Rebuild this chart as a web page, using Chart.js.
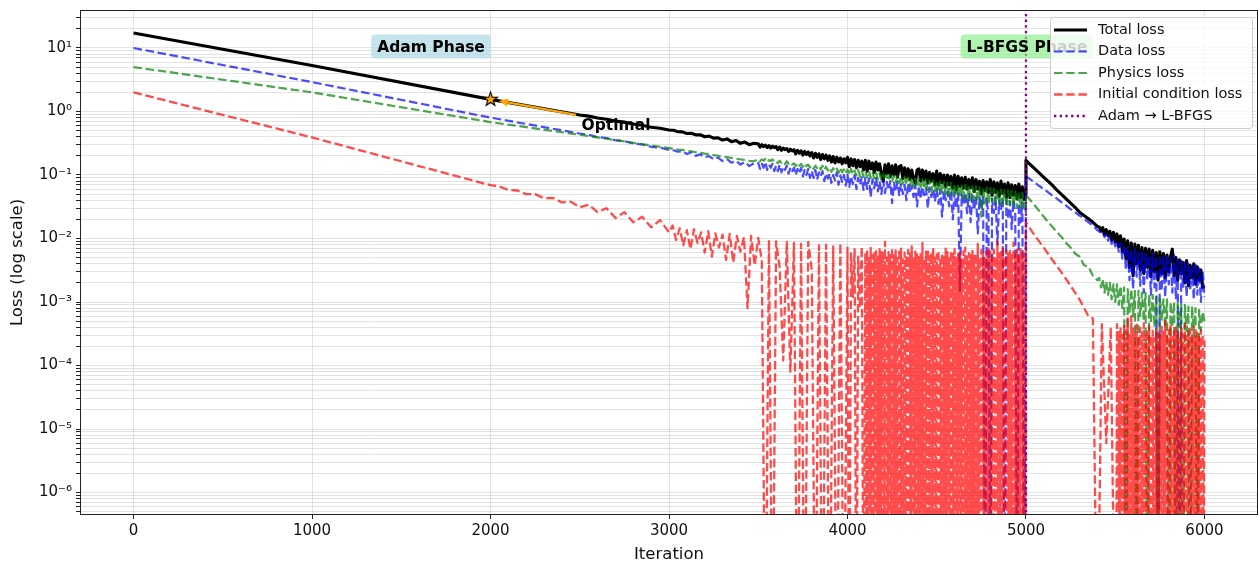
<!DOCTYPE html>
<html>
<head>
<meta charset="utf-8">
<title>PINN training loss</title>
<script src="https://cdn.jsdelivr.net/npm/chart.js@4.4.1/dist/chart.umd.min.js"></script>
<style>
  html, body { margin: 0; padding: 0; background: #fff; }
  canvas { display: block; }
</style>
</head>
<body>
<canvas id="lossChart" width="1259" height="563"></canvas>
<script>
// iterations sampled for total / data / physics loss (denser where the curves are noisy)
const iters = [
  0, 1000, 2000, 2500, 2550, 2600, 2650, 2700, 2750, 2800, 2850, 2900, 2950, 3000,
  3025, 3050, 3075, 3100, 3125, 3150, 3175, 3200, 3225, 3250, 3275, 3300, 3325, 3350, 3375, 3400, 3425, 3450, 3475,
  3500, 3510, 3520, 3530, 3540, 3550, 3560, 3570, 3580, 3590,
  3600, 3610, 3620, 3630, 3640, 3650, 3660, 3670, 3680, 3690,
  3700, 3710, 3720, 3730, 3740, 3750, 3760, 3770, 3780, 3790,
  3800, 3810, 3820, 3830, 3840, 3850, 3860, 3870, 3880, 3890,
  3900, 3910, 3920, 3930, 3940, 3950, 3960, 3970, 3980, 3990,
  4000, 4010, 4020, 4030, 4040, 4050, 4060, 4070, 4080, 4090,
  4100, 4110, 4120, 4130, 4140, 4150, 4160, 4170, 4180, 4190,
  4200, 4210, 4220, 4230, 4240, 4250, 4260, 4270, 4280, 4290,
  4300, 4310, 4320, 4330, 4340, 4350, 4360, 4370, 4380, 4390,
  4400, 4410, 4420, 4430, 4440, 4450, 4460, 4470, 4480, 4490,
  4500, 4510, 4520, 4530, 4540, 4550, 4560, 4570, 4580, 4590,
  4600, 4610, 4620, 4630, 4640, 4650, 4660, 4670, 4680, 4690,
  4700, 4710, 4720, 4730, 4740, 4750, 4760, 4770, 4780, 4790,
  4800, 4810, 4820, 4830, 4840, 4850, 4860, 4870, 4880, 4890,
  4900, 4910, 4920, 4930, 4940, 4950, 4960, 4970, 4980, 4990, 4999,
  5000, 5025, 5050, 5075, 5100, 5125, 5150, 5175, 5200, 5225, 5250, 5275, 5300, 5325, 5350, 5375, 5400,
  5410, 5420, 5430, 5440, 5450, 5460, 5470, 5480, 5490, 5500,
  5510, 5520, 5530, 5540, 5550, 5560, 5570, 5580, 5590, 5600,
  5610, 5620, 5630, 5640, 5650, 5660, 5670, 5680, 5690, 5700,
  5710, 5720, 5730, 5740, 5750, 5760, 5770, 5780, 5790, 5800,
  5810, 5820, 5830, 5840, 5850, 5860, 5870, 5880, 5890, 5900,
  5910, 5920, 5930, 5940, 5950, 5960, 5970, 5980, 5990, 6000
];

const totalLoss = [
  17.2, 5.3, 1.55, 0.88, 0.845, 0.79, 0.755, 0.705, 0.68, 0.635, 0.605, 0.565, 0.545, 0.51,
  .505, .48, .478, .45, .455, .428, .43, .40, .41, .38, .385, .355, .37, .335, .35, .315, .33, .30, .315,
  .31, .275, .30, .28, .295, .27, .29, .265, .285, .27,
  .28, .25, .275, .245, .265, .25, .26, .235, .255, .24,
  .25, .215, .245, .22, .24, .205, .235, .21, .23, .20,
  .225, .185, .22, .19, .215, .175, .21, .18, .205, .17,
  .20, .16, .195, .155, .19, .16, .185, .15, .18, .155,
  .19, .135, .18, .14, .175, .13, .17, .135, .165, .12,
  .17, .115, .165, .125, .155, .11, .16, .12, .15, .105,
  .08, .145, .105, .15, .095, .14, .10, .145, .092, .135,
  .14, .088, .13, .092, .125, .085, .12, .088, .075, .12,
  .125, .08, .12, .084, .115, .075, .11, .08, .105, .07,
  .115, .07, .105, .075, .10, .066, .10, .07, .095, .062,
  .10, .058, .095, .066, .09, .062, .092, .06, .085, .063,
  .09, .055, .085, .06, .08, .05, .082, .057, .078, .053,
  .085, .048, .078, .053, .075, .046, .08, .051, .072, .044,
  .075, .044, .07, .048, .068, .042, .072, .044, .065, .041, .05,
  .17, .145, .125, .107, .092, .079, .068, .057, .049, .042, .036, .031, .026, .023, .0205, .018, .0155,
  .0152, .013, .0148, .0115, .0138, .011, .013, .0095, .0125, .0088,
  .0118, .0075, .011, .0062, .0098, .0048, .0092, .0035, .0085, .0026,
  .0082, .004, .0078, .0032, .0072, .0028, .007, .0035, .0068, .0025,
  .0065, .003, .006, .0022, .0062, .0028, .0058, .0024, .0055, .003,
  .0052, .0068, .0026, .005, .0022, .0046, .0028, .0042, .002, .0045,
  .0018, .0038, .0024, .004, .0019, .0036, .0022, .0032, .0017, .0018
];

const dataLoss = [
  10, 2.9, 0.80, 0.45, 0.43, 0.395, 0.382, 0.352, 0.342, 0.312, 0.302, 0.278, 0.27, 0.248,
  .245, .232, .236, .214, .226, .20, .212, .19, .198, .176, .188, .166, .178, .156, .168, .146, .16, .138, .152,
  .155, .125, .15, .13, .16, .12, .145, .13, .15, .115,
  .14, .115, .145, .11, .135, .12, .14, .105, .13, .115,
  .13, .10, .125, .105, .13, .095, .12, .10, .125, .09,
  .115, .09, .12, .085, .11, .095, .115, .08, .105, .088,
  .105, .075, .10, .082, .11, .07, .098, .078, .10, .068,
  .10, .065, .095, .072, .10, .06, .09, .07, .092, .058,
  .09, .06, .088, .045, .085, .062, .09, .055, .08, .05,
  .082, .052, .078, .058, .08, .036, .075, .055, .078, .048,
  .072, .05, .07, .04, .075, .052, .068, .045, .07, .032,
  .066, .042, .065, .048, .062, .03, .064, .045, .06, .038,
  .06, .035, .058, .022, .056, .04, .055, .032, .058, .02,
  .054, .03, .052, .0015, .05, .034, .052, .025, .05, .018,
  .048, .028, .046, .012, .045, .03, .047, 0, .044, .022,
  0, .042, .025, .044, .008, .04, .028, .043, 0, .04,
  .02, .038, .014, .04, .024, 0, .036, .018, .037, 0, .012,
  .095, .085, .076, .067, .060, .053, .047, .042, .037, .033, .029, .026, .023, .0205, .018, .016, .0135,
  .013, .0118, .0125, .0105, .0115, .0092, .011, .0082, .0098, .0075,
  .009, .0062, .0085, .0048, .0078, .0032, .0072, .0022, .0065, .0016,
  .0068, .0025, .006, .0018, .0062, .0014, .0058, .0022, .0055, .0013,
  .0058, .0017, .0052, 0, .0055, .0015, .005, .0012, .0052, .0019,
  .0048, .0014, .0055, .0011, .0046, 0, .0045, .0016, .0042, .0012,
  .004, .0015, .0038, .0011, .004, .0013, .0034, .001, .0032, .0012
];

const physicsLoss = [
  5.0, 2.0, 0.68, 0.43, 0.41, 0.39, 0.372, 0.356, 0.338, 0.322, 0.306, 0.292, 0.278, 0.265,
  .259, .251, .248, .239, .236, .228, .224, .217, .213, .205, .201, .195, .191, .185, .181, .176, .172, .167, .164,
  .178, .165, .175, .168, .18, .162, .172, .165, .176, .16,
  .165, .152, .168, .155, .162, .148, .165, .15, .158, .146,
  .152, .138, .155, .14, .15, .135, .152, .138, .145, .132,
  .142, .125, .14, .128, .138, .122, .14, .12, .135, .118,
  .13, .112, .128, .115, .126, .108, .13, .11, .122, .105,
  .122, .10, .125, .102, .118, .098, .12, .095, .115, .094,
  .112, .092, .115, .09, .11, .088, .108, .085, .106, .082,
  .104, .083, .102, .08, .10, .078, .098, .076, .096, .074,
  .095, .072, .094, .07, .092, .068, .09, .066, .088, .064,
  .088, .064, .086, .06, .085, .058, .083, .056, .082, .055,
  .08, .054, .079, .052, .078, .05, .076, .048, .075, .046,
  .073, .047, .072, .044, .071, .043, .07, .04, .068, .039,
  .067, .04, .066, .038, .065, .022, .064, .036, .063, .034,
  .062, .038, .061, .036, .06, .034, .059, .035, .058, .033,
  .057, .034, .056, .032, .055, .03, .054, .031, .053, .03, .028,
  .048, .040, .033, .027, .022, .018, .015, .0125, .0105, .0085, .0072, .0058, .0052, .0038, .0036, .0026, .0022,
  .0024, .0017, .0023, .0014, .0021, .0013, .002, .0011, .0019, .001,
  .0019, .0009, .0018, .0008, .0017, 0, .0016, .0007, .0016, .0006,
  .0015, 0, .0015, .0006, .0014, .0005, .0014, 0, .0013, .0005,
  .0013, .0004, .0012, 0, .0012, .0005, .0011, .0004, .0011, 0,
  .001, .0004, .001, 0, .00095, .0004, .0009, 0, .0009, .00035,
  .00085, 0, .00085, .0004, .0008, 0, .00075, .00035, .0007, .0005
];

// initial condition loss, sampled densest where it keeps hitting zero
const icIters = [
  0, 1000, 2000,
  2050, 2100, 2150, 2200, 2250, 2300, 2350, 2400, 2450, 2500,
  2550, 2600, 2650, 2700, 2750, 2800, 2850, 2900, 2950, 3000,
  3020, 3040, 3060, 3080, 3100, 3120, 3140, 3160, 3180, 3200,
  3220, 3240, 3260, 3280, 3300, 3320, 3340, 3360, 3380, 3400,
  3420, 3440, 3460, 3480, 3500, 3520, 3540, 3560, 3580, 3600,
  3620, 3640, 3660, 3680, 3700, 3720, 3740, 3760, 3780, 3800,
  3820, 3840, 3860, 3880, 3900, 3920, 3940, 3960, 3980,
  4000, 4010, 4020, 4030, 4040, 4050, 4060, 4070, 4080, 4090,
  4100, 4105, 4110, 4115, 4120, 4125, 4130, 4135, 4140, 4145, 4150, 4155, 4160, 4165, 4170, 4175, 4180, 4185, 4190, 4195,
  4200, 4205, 4210, 4215, 4220, 4225, 4230, 4235, 4240, 4245, 4250, 4255, 4260, 4265, 4270, 4275, 4280, 4285, 4290, 4295,
  4300, 4305, 4310, 4315, 4320, 4325, 4330, 4335, 4340, 4345, 4350, 4355, 4360, 4365, 4370, 4375, 4380, 4385, 4390, 4395,
  4400, 4405, 4410, 4415, 4420, 4425, 4430, 4435, 4440, 4445, 4450, 4455, 4460, 4465, 4470, 4475, 4480, 4485, 4490, 4495,
  4500, 4505, 4510, 4515, 4520, 4525, 4530, 4535, 4540, 4545, 4550, 4555, 4560, 4565, 4570, 4575, 4580, 4585, 4590, 4595,
  4600, 4605, 4610, 4615, 4620, 4625, 4630, 4635, 4640, 4645, 4650, 4655, 4660, 4665, 4670, 4675, 4680, 4685, 4690, 4695,
  4700, 4705, 4710, 4715, 4720, 4725, 4730, 4735, 4740, 4745, 4750, 4755, 4760, 4765, 4770, 4775, 4780, 4785, 4790, 4795,
  4800, 4805, 4810, 4815, 4820, 4825, 4830, 4835, 4840, 4845, 4850, 4855, 4860, 4865, 4870, 4875, 4880, 4885, 4890, 4895,
  4900, 4905, 4910, 4915, 4920, 4925, 4930, 4935, 4940, 4945, 4950, 4955, 4960, 4965, 4970, 4975, 4980, 4985, 4990, 4995,
  4999, 5000, 5050, 5100, 5150, 5200, 5250, 5300, 5350, 5375, 5400, 5425, 5450, 5475, 5500,
  5505, 5510, 5515, 5520, 5525, 5530, 5535, 5540, 5545, 5550, 5555, 5560, 5565, 5570, 5575, 5580, 5585, 5590, 5595, 5600,
  5605, 5610, 5615, 5620, 5625, 5630, 5635, 5640, 5645, 5650, 5655, 5660, 5665, 5670, 5675, 5680, 5685, 5690, 5695, 5700,
  5705, 5710, 5715, 5720, 5725, 5730, 5735, 5740, 5745, 5750, 5755, 5760, 5765, 5770, 5775, 5780, 5785, 5790, 5795, 5800,
  5805, 5810, 5815, 5820, 5825, 5830, 5835, 5840, 5845, 5850, 5855, 5860, 5865, 5870, 5875, 5880, 5885, 5890, 5895, 5900,
  5905, 5910, 5915, 5920, 5925, 5930, 5935, 5940, 5945, 5950, 5955, 5960, 5965, 5970, 5975, 5980, 5985, 5990, 5995, 6000
];

const icLoss = [
  2.0, 0.39, 0.069,
  .066, .058, .057, .050, .050, .043, .0435, .037, .038, .031,
  .034, .026, .030, .021, .026, .018, .022, .015, .0195, .0125,
  .016, .0095, .0145, .0078, .0135, .0068, .014, .0085, .0125, .006,
  .013, .0052, .012, .0072, .0115, .0046, .0118, .0042, .011, .0062,
  .0105, .0008, .011, .0038, .0102, .0045, 0, .0095, 0, .009,
  .0035, .00012, .0088, .00008, .0085, 0, .0082, 0, .0088, .0032,
  0, .0078, 0, .008, 0, .0075, 0, .0085, 0,
  .0072, 0, .0058, .0012, .0068, 0, .0052, .0008, .0075, 0,
  .006, 0, .0066, 0, .0049, 0, .0071, 0, .0055, 0, .0058, 0, .0063, 0, .0052, 0, .0068, 0, .0061, 0,
  .0063, 0, .0088, 0, .005, 0, .0061, 0, .0057, 0, .0072, 0, .0054, 0, .0065, 0, .0049, 0, .0069, 0,
  .0069, 0, .0047, 0, .006, 0, .0054, 0, .0066, 0, .0058, 0, .0075, 0, .0051, 0, .0062, 0, .0056, 0,
  .0051, 0, .0059, 0, .0085, 0, .0048, 0, .0062, 0, .0067, 0, .0053, 0, .006, 0, .0071, 0, .005, 0,
  .0056, 0, .0065, 0, .0046, 0, .0058, 0, .0052, 0, .0069, 0, .0061, 0, .0048, 0, .0064, 0, .0057, 0,
  .0068, 0, .0049, 0, .0057, 0, .0061, 0, .0047, 0, .0063, 0, .0072, 0, .0052, 0, .0059, 0, .0055, 0,
  .0064, 0, .0053, 0, .0059, 0, .0082, 0, .005, 0, .0066, 0, .0058, 0, .0049, 0, .0062, 0, .007, 0,
  .0062, 0, .0056, 0, .0067, 0, .0052, 0, .009, 0, .0058, 0, .0061, 0, .0074, 0, .0053, 0, .0065, 0,
  .0058, 0, .0064, 0, .0055, 0, .0086, 0, .006, 0, .0067, 0, .0052, 0, .0071, 0, .0063, 0, .0059, 0,
  0, .018, .011, .0072, .0045, .0029, .0018, .0011, .0006, .00055, 0, .00045, .000006, .0004, 0,
  0, .00045, 0, .00035, 0, .0004, 0, .0003, 0, .00042, 0, .00036, 0, .00055, 0, .00032, 0, .0006, 0, .00038,
  0, .00031, 0, .00044, 0, .00028, 0, .00039, 0, .00033, 0, .00046, 0, .00029, 0, .00037, 0, .00042, 0, .0003,
  0, .00035, 0, .00027, 0, .00038, 0, .00032, 0, .00029, 0, .00041, 0, .00034, 0, .0005, 0, .00031, 0, .00036,
  0, .00043, 0, .00028, 0, .00035, 0, .0004, 0, .00033, 0, .00026, 0, .00039, 0, .00031, 0, .00045, 0, .00029,
  0, .00034, 0, .00037, 0, .00027, 0, .00041, 0, .0003, 0, .00033, 0, .00028, 0, .00036, 0, .00031, 0, .00025
];

const switchIter = 5000;
const bestIter = 2000;
const bestLoss = 1.55;

const xTicks = [0, 1000, 2000, 3000, 4000, 5000, 6000];
const yDecades = [1e-6, 1e-5, 1e-4, 1e-3, 1e-2, 1e-1, 1, 10];
const yTickLabels = ['10⁻⁶', '10⁻⁵', '10⁻⁴', '10⁻³', '10⁻²', '10⁻¹', '10⁰', '10¹'];

const FONT = "'DejaVu Sans', 'Liberation Sans', sans-serif";
const Y_MIN = 4.43e-7, Y_MAX = 39.6;

[[iters, totalLoss], [iters, dataLoss], [iters, physicsLoss], [icIters, icLoss]].forEach(([a, b], i) => {
  if (a.length !== b.length) throw new Error('length mismatch in series ' + i + ': ' + a.length + ' vs ' + b.length);
});

// values that hit zero fall off the bottom of the log axis
function toPoints(xs, ys) {
  return xs.map((x, i) => ({ x: x, y: ys[i] > 0 ? ys[i] : 1e-9 }));
}

// 1..9 x 10^k inside the axis range, for the minor grid
const yTicks = [];
[1e-7].concat(yDecades).forEach(d => {
  for (let m = 1; m <= 9; m++) {
    const v = parseFloat((m * d).toPrecision(3));
    if (v >= Y_MIN && v <= Y_MAX) yTicks.push(v);
  }
});

function starImage(r) {
  const size = Math.ceil(2 * r + 4);
  const c = document.createElement('canvas');
  c.width = size;
  c.height = size;
  const g = c.getContext('2d');
  g.beginPath();
  for (let i = 0; i < 10; i++) {
    const rr = i % 2 ? r * 0.4 : r;
    const a = -Math.PI / 2 + i * Math.PI / 5;
    g.lineTo(size / 2 + rr * Math.cos(a), size / 2 + rr * Math.sin(a));
  }
  g.closePath();
  g.fillStyle = '#ffa500';
  g.fill();
  g.lineWidth = 1.1;
  g.strokeStyle = '#000';
  g.stroke();
  return c;
}

function phaseLabel(ctx, text, cx, cy, fill) {
  ctx.font = 'bold 15.5px ' + FONT;
  const w = ctx.measureText(text).width + 12;
  ctx.beginPath();
  ctx.roundRect(cx - w / 2, cy - 12, w, 24, 4);
  ctx.fillStyle = fill;
  ctx.fill();
  ctx.fillStyle = '#000';
  ctx.textAlign = 'center';
  ctx.textBaseline = 'middle';
  ctx.fillText(text, cx, cy + 1);
}

function drawLegend(ctx, area, datasets) {
  const x0 = area.right - 208, y0 = area.top + 7;
  ctx.beginPath();
  ctx.roundRect(x0 + 0.5, y0 + 0.5, 202, 111, 3);
  ctx.fillStyle = 'rgba(255,255,255,0.8)';
  ctx.fill();
  ctx.lineWidth = 1;
  ctx.strokeStyle = '#cccccc';
  ctx.stroke();
  ctx.font = '14.5px ' + FONT;
  ctx.textAlign = 'left';
  ctx.textBaseline = 'middle';
  datasets.slice(0, 5).forEach((ds, i) => {
    const yy = y0 + 13 + i * 21.5;
    ctx.beginPath();
    ctx.setLineDash(ds.borderDash || []);
    ctx.strokeStyle = ds.borderColor;
    ctx.lineWidth = Math.min(ds.borderWidth, 3);
    ctx.moveTo(x0 + 4, yy);
    ctx.lineTo(x0 + 37, yy);
    ctx.stroke();
    ctx.setLineDash([]);
    ctx.fillStyle = '#111';
    ctx.fillText(ds.label, x0 + 48, yy);
  });
}

const decorations = {
  id: 'decorations',
  afterDatasetsDraw(chart) {
    const { ctx, chartArea: area, scales: { x, y } } = chart;
    ctx.save();

    // axes frame
    ctx.lineWidth = 1;
    ctx.strokeStyle = '#222';
    ctx.strokeRect(area.left + 0.5, area.top + 0.5, area.right - area.left - 1, area.bottom - area.top - 1);

    // arrow to the best point
    const sx = x.getPixelForValue(bestIter), sy = y.getPixelForValue(bestLoss);
    const tx = x.getPixelForValue(2480), ty = y.getPixelForValue(0.885);
    const ang = Math.atan2(sy - ty, sx - tx);
    const cos = Math.cos(ang), sin = Math.sin(ang);
    const hx = sx - cos * 8.5, hy = sy - sin * 8.5;
    ctx.strokeStyle = '#ffa500';
    ctx.fillStyle = '#ffa500';
    ctx.lineWidth = 2.3;
    ctx.beginPath();
    ctx.moveTo(tx, ty);
    ctx.lineTo(hx - cos * 6, hy - sin * 6);
    ctx.stroke();
    ctx.beginPath();
    ctx.moveTo(hx, hy);
    ctx.lineTo(hx - cos * 9 + sin * 4, hy - sin * 9 - cos * 4);
    ctx.lineTo(hx - cos * 9 - sin * 4, hy - sin * 9 + cos * 4);
    ctx.closePath();
    ctx.fill();

    ctx.font = 'bold 15.5px ' + FONT;
    ctx.fillStyle = '#000';
    ctx.textAlign = 'left';
    ctx.textBaseline = 'middle';
    ctx.fillText('Optimal', x.getPixelForValue(2510), y.getPixelForValue(0.6));

    phaseLabel(ctx, 'Adam Phase', x.getPixelForValue(switchIter / 3), y.getPixelForValue(10.5), 'rgba(173,216,230,0.7)');
    phaseLabel(ctx, 'L-BFGS Phase', x.getPixelForValue(switchIter + 5), y.getPixelForValue(10.5), 'rgba(144,238,144,0.7)');

    drawLegend(ctx, area, chart.data.datasets);
    ctx.restore();
  }
};

Chart.defaults.font.family = FONT;
Chart.defaults.color = '#111';

const gridColor = 'rgba(176,176,176,0.35)';

new Chart(document.getElementById('lossChart'), {
  type: 'line',
  data: {
    datasets: [
      { label: 'Total loss', data: toPoints(iters, totalLoss), borderColor: '#000', borderWidth: 3.1, order: 5 },
      { label: 'Data loss', data: toPoints(iters, dataLoss), borderColor: 'rgba(0,0,255,0.7)', borderWidth: 2.2, borderDash: [8.5, 3.7], order: 4 },
      { label: 'Physics loss', data: toPoints(iters, physicsLoss), borderColor: 'rgba(0,128,0,0.7)', borderWidth: 2.2, borderDash: [8.5, 3.7], order: 3 },
      { label: 'Initial condition loss', data: toPoints(icIters, icLoss), borderColor: 'rgba(255,0,0,0.7)', borderWidth: 2.3, borderDash: [8.5, 3.7], order: 2 },
      { label: 'Adam → L-BFGS', data: [{ x: switchIter, y: 1e-9 }, { x: switchIter, y: 1e3 }], borderColor: '#800080', borderWidth: 2.3, borderDash: [2.3, 3.4], order: 1 },
      { label: 'best', data: [{ x: bestIter, y: bestLoss }], showLine: false, pointRadius: 7, pointStyle: starImage(7.4), order: 0 }
    ]
  },
  options: {
    responsive: false,
    animation: false,
    devicePixelRatio: 1,
    events: [],
    layout: { autoPadding: false, padding: { top: 10, right: 1, left: 0, bottom: 0 } },
    plugins: { legend: { display: false }, tooltip: { enabled: false } },
    elements: { point: { radius: 0 }, line: { tension: 0, borderJoinStyle: 'round' } },
    scales: {
      x: {
        type: 'linear',
        min: -300,
        max: 6300,
        bounds: 'data',
        afterBuildTicks: s => { s.ticks = xTicks.map(v => ({ value: v })); },
        afterFit: s => { s.height = 48; s.paddingLeft = 0; s.paddingRight = 0; },
        ticks: { autoSkip: false, maxRotation: 0, padding: 3, color: '#111', font: { size: 15 }, callback: v => String(v) },
        grid: { color: gridColor, lineWidth: 1, tickColor: '#222', tickLength: 4, tickWidth: 1 },
        border: { display: false },
        title: { display: true, text: 'Iteration', color: '#111', font: { size: 16.5, lineHeight: 1 }, padding: 0 }
      },
      y: {
        type: 'logarithmic',
        min: Y_MIN,
        max: Y_MAX,
        bounds: 'data',
        afterBuildTicks: s => { s.ticks = yTicks.map(v => ({ value: v })); },
        afterFit: s => { s.width = 80; s.paddingTop = 0; s.paddingBottom = 0; },
        ticks: {
          autoSkip: false,
          padding: 4,
          color: '#111',
          font: { size: 15 },
          callback: v => {
            const i = yDecades.findIndex(d => Math.abs(d - v) / d < 1e-6);
            return i < 0 ? '' : yTickLabels[i];
          }
        },
        grid: { color: gridColor, lineWidth: 1, tickColor: '#222', tickLength: 4, tickWidth: 1 },
        border: { display: false },
        title: { display: true, text: 'Loss (log scale)', color: '#111', font: { size: 16.5, lineHeight: 1 }, padding: { top: 9, bottom: 0 } }
      }
    }
  },
  plugins: [decorations]
});
</script>
</body>
</html>
